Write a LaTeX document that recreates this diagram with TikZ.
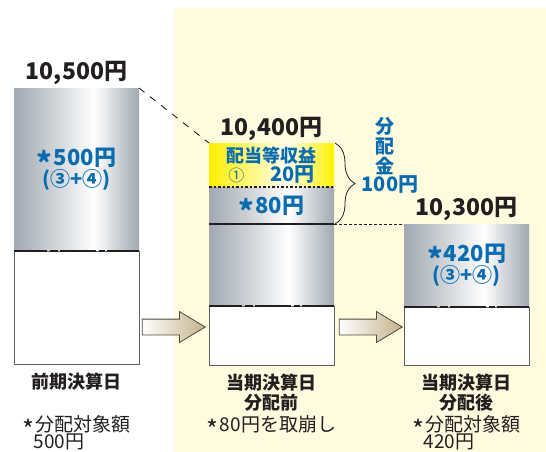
\documentclass[tikz,border=0pt]{standalone}
\usepackage{fontspec}
\setmainfont{Noto Sans CJK JP}
\usetikzlibrary{shapes.arrows,decorations.pathreplacing,positioning}

\definecolor{kanblue}{RGB}{10,108,176}
\definecolor{inkdark}{RGB}{35,31,32}
\definecolor{panelcream}{RGB}{255,251,222}
\definecolor{metalgray}{RGB}{160,168,176}
\definecolor{hiliteyellow}{RGB}{255,240,0}
\definecolor{arrowtan}{RGB}{196,178,138}
\definecolor{arrowedge}{RGB}{80,72,62}

\pgfdeclarehorizontalshading{metal}{100bp}{color(0bp)=(metalgray); color(25bp)=(metalgray);
  color(57bp)=(white); color(75bp)=(metalgray); color(100bp)=(metalgray)}
\pgfdeclarehorizontalshading{glow}{100bp}{color(0bp)=(hiliteyellow); color(25bp)=(hiliteyellow);
  color(56bp)=(hiliteyellow!6); color(75bp)=(hiliteyellow); color(100bp)=(hiliteyellow)}

\newcommand{\kome}{\raisebox{-0.42em}[0.7em][0pt]{\scalebox{1.35}{*}}\kern0.05em}
\newcommand{\tightlines}{\lineskiplimit=-20pt\relax}

\tikzstyle{metalbar} = [shading=metal, minimum width=125pt, inner sep=0pt, outer sep=0pt]
\tikzstyle{glowbar} = [shading=glow, minimum width=125pt, inner sep=0pt, outer sep=0pt]
\tikzstyle{basebox} = [draw=gray!75!black, line width=0.8pt, fill=white,
    minimum width=125pt, inner sep=0pt, outer sep=0pt]
\tikzstyle{amount} = [text=inkdark, font=\bfseries\fontsize{23}{26}\selectfont]
\tikzstyle{bluetext} = [text=kanblue, font=\bfseries\fontsize{22}{21}\selectfont\tightlines, align=center]
\tikzstyle{daylabel} = [text=inkdark, font=\bfseries\fontsize{18}{20}\selectfont, align=center]
\tikzstyle{note} = [text=inkdark, font=\fontsize{19}{17.5}\selectfont\tightlines,
    align=left, inner sep=0pt]
\tikzstyle{brokenline} = [line width=1.6pt, inkdark,
    dash pattern=on 33pt off 2.5pt on 8pt off 2.5pt on 36pt off 2.5pt on 6pt off 2.5pt on 40pt off 0pt]
\tikzstyle{blockarrow} = [single arrow, draw=arrowedge, line width=0.8pt,
    left color=white, right color=arrowtan, minimum height=63pt, minimum width=30pt,
    inner xsep=0pt, inner ysep=7.5pt, single arrow head extend=7.5pt,
    single arrow tip angle=62, single arrow head indent=0pt]

\begin{document}
\begin{tikzpicture}[x=1pt, y=-1pt]
\useasboundingbox (0,0) rectangle (546,452);
\fill[panelcream] (174,8) rectangle (546,452);

% previous closing day
\node [metalbar, minimum height=163pt, anchor=north west] (prevtop) at (14,88) {};
\node [bluetext] at (prevtop.center) {\kome500円\\{\fontsize{20}{21}\selectfont(③+④)}};
\node [basebox, minimum height=113pt, below=0pt of prevtop] (prevbase) {};
\draw [brokenline] (prevbase.north west) -- (prevbase.north east);
\node [amount, above=0pt of prevtop.north] (prevsum) {10,500円};

% current closing day, before distribution
\node [glowbar, minimum height=44pt, anchor=north west] (nowyellow) at (209,143) {};
\node [text=kanblue, font=\bfseries\fontsize{18}{19.5}\selectfont\tightlines, align=center] at (nowyellow.center)
    {配当等収益\\{\mdseries\fontsize{16}{19.5}\selectfont ①}\hspace{26pt}{\fontsize{20}{19.5}\selectfont 20円}};
\node [metalbar, minimum height=37pt, below=0pt of nowyellow] (nowmid) {};
\node [bluetext] at (nowmid.center) {\kome80円};
\node [metalbar, minimum height=82pt, below=0pt of nowmid] (nowtop) {};
\node [basebox, minimum height=59pt, below=0pt of nowtop] (nowbase) {};
\draw [inkdark, line width=1.2pt, dash pattern=on 2.5pt off 2pt] (nowmid.north west) -- (nowmid.north east);
\draw [inkdark, line width=1.4pt] (nowtop.north west) -- (nowtop.north east);
\draw [brokenline] (nowbase.north west) -- (nowbase.north east);
\node [amount, above=-1pt of nowyellow.north] (nowsum) {10,400円};

% current closing day, after distribution
\node [metalbar, minimum height=83pt, anchor=north west] (nexttop) at (404,224) {};
\node [bluetext] at (nexttop.center) {\kome420円\\{\fontsize{20}{21}\selectfont(③+④)}};
\node [basebox, minimum height=58pt, below=0pt of nexttop] (nextbase) {};
\draw [brokenline] (nextbase.north west) -- (nextbase.north east);
\node [amount, above=0pt of nexttop.north] (nextsum) {10,300円};

% links between the bars
\draw [inkdark, line width=0.9pt, dash pattern=on 7pt off 7pt] (prevtop.north east) -- (nowyellow.north west);
\draw [inkdark, line width=0.9pt, dash pattern=on 2.5pt off 2.5pt] (nowmid.south east) -- (nexttop.north west);
\draw [decorate, decoration={brace, amplitude=20pt}, inkdark, line width=0.8pt]
    ([xshift=1pt]nowyellow.north east) -- ([xshift=1pt]nowmid.south east);
\node [text=kanblue, font=\bfseries\fontsize{19}{20}\selectfont\tightlines, align=center] (fundlbl) at (385,146) {分\\配\\金};
\node [text=kanblue, font=\bfseries\fontsize{20}{20}\selectfont] (fundamt) at (390,185) {100円};

\node [blockarrow, anchor=tip] (arrA) at (206,327) {};
\node [blockarrow, anchor=tip] (arrB) at (403,327) {};

% captions
\node [daylabel, below=5pt of prevbase.south] (prevday) {前期決算日};
\node [daylabel, below=5pt of nowbase.south] (nowday) {当期決算日\\分配前};
\node [daylabel, below=5pt of nextbase.south] (nextday) {当期決算日\\分配後};
\coordinate (noteline) at (0,415);
\node [note, anchor=north] (prevnote) at (prevbase.south |- noteline) {\kome 分配対象額\\\hspace{11pt}500円};
\node [note, anchor=north] (nownote) at (nowbase.south |- noteline) {\kome 80円を取崩し};
\node [note, anchor=north] (nextnote) at (nextbase.south |- noteline) {\kome 分配対象額\\\hspace{11pt}420円};

\end{tikzpicture}
\end{document}
